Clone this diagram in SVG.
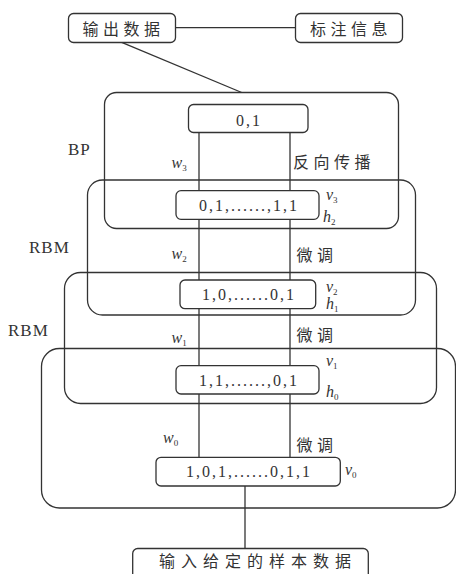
<svg xmlns="http://www.w3.org/2000/svg" width="456" height="574" viewBox="0 0 456 574">
<style>
.grp{fill:none;stroke:#333;stroke-width:1.3}
.box{fill:#fff;stroke:#333;stroke-width:1.3}
.ln{stroke:#333;stroke-width:1.3;fill:none}
.cn{font-family:"Noto Sans CJK SC","Noto Sans CJK JP",sans-serif;font-size:16px;fill:#333;letter-spacing:4.5px}
.num{font-family:"Liberation Serif","Times New Roman",serif;font-size:16px;fill:#333;letter-spacing:2px;text-anchor:middle}
.lab{font-family:"Liberation Serif","Times New Roman",serif;font-size:17px;fill:#333;letter-spacing:1px}
.it{font-family:"Liberation Serif","Times New Roman",serif;font-size:16px;font-style:italic;fill:#333}
.sub{font-size:9px;font-style:normal}
</style>
<rect width="456" height="574" fill="#fff"/>
<g id="group-big"><rect class="grp" x="41.5" y="348.5" width="414" height="159.5" rx="18"/></g>
<g id="group-rbm1"><rect class="grp" x="64.5" y="272.5" width="372" height="131" rx="16"/></g>
<g id="group-rbm2"><rect class="grp" x="87.5" y="180" width="328" height="135" rx="15"/></g>
<g id="group-bp"><rect class="grp" x="104.5" y="92.5" width="294" height="136" rx="12"/></g>
<g id="connectors">
<line class="ln" x1="199" y1="132" x2="199" y2="458"/>
<line class="ln" x1="290" y1="132" x2="290" y2="458"/>
<line class="ln" x1="175.7" y1="27.7" x2="295.3" y2="27.7"/>
<line class="ln" x1="121.7" y1="42.3" x2="241.7" y2="92.5"/>
<line class="ln" x1="245" y1="486" x2="245" y2="548.5"/>
</g>
<g id="out"><rect class="box" x="68.5" y="13.5" width="107" height="29" rx="5"/><text class="cn" x="82.5" y="35">输出数据</text></g>
<g id="label"><rect class="box" x="295.5" y="13.5" width="107" height="29" rx="5"/><text class="cn" x="310" y="35">标注信息</text></g>
<g id="l4"><rect class="box" x="188.5" y="104.5" width="119.5" height="28" rx="5"/><text class="num" x="249" y="126">0,1</text></g>
<g id="l3"><rect class="box" x="176" y="190.7" width="143" height="28.6" rx="5"/><text class="num" x="249" y="211">0,1,......,1,1</text></g>
<g id="l2"><rect class="box" x="180" y="280" width="135.7" height="28.7" rx="5"/><text class="num" x="249" y="300">1,0,......0,1</text></g>
<g id="l1"><rect class="box" x="176" y="365.7" width="143" height="28.3" rx="5"/><text class="num" x="249" y="385.5">1,1,......,0,1</text></g>
<g id="l0"><rect class="box" x="156" y="457.3" width="184.3" height="28.7" rx="5"/><text class="num" x="249" y="477">1,0,1,......0,1,1</text></g>
<g id="input"><rect class="box" x="132.7" y="548.5" width="235.6" height="34" rx="5"/><text class="cn" x="159" y="567" style="letter-spacing:6px">输入给定的样本数据</text></g>
<g id="labels">
<text class="lab" x="68" y="155">BP</text>
<text class="lab" x="29" y="253">RBM</text>
<text class="lab" x="8" y="336">RBM</text>
<text class="it" x="171.5" y="168">w<tspan class="sub" dy="3">3</tspan></text>
<text class="it" x="171.5" y="259">w<tspan class="sub" dy="3">2</tspan></text>
<text class="it" x="171.5" y="343">w<tspan class="sub" dy="3">1</tspan></text>
<text class="it" x="163" y="443">w<tspan class="sub" dy="3">0</tspan></text>
<text class="it" x="326" y="200">v<tspan class="sub" dy="3">3</tspan></text>
<text class="it" x="323" y="222">h<tspan class="sub" dy="3">2</tspan></text>
<text class="it" x="326" y="292">v<tspan class="sub" dy="3">2</tspan></text>
<text class="it" x="326" y="309">h<tspan class="sub" dy="3">1</tspan></text>
<text class="it" x="326" y="366">v<tspan class="sub" dy="3">1</tspan></text>
<text class="it" x="326" y="397">h<tspan class="sub" dy="3">0</tspan></text>
<text class="it" x="345" y="475">v<tspan class="sub" dy="3">0</tspan></text>
<text class="cn" x="293" y="168">反向传播</text>
<text class="cn" x="296.5" y="261">微调</text>
<text class="cn" x="296.5" y="341">微调</text>
<text class="cn" x="296.5" y="451">微调</text>
</g>
</svg>
